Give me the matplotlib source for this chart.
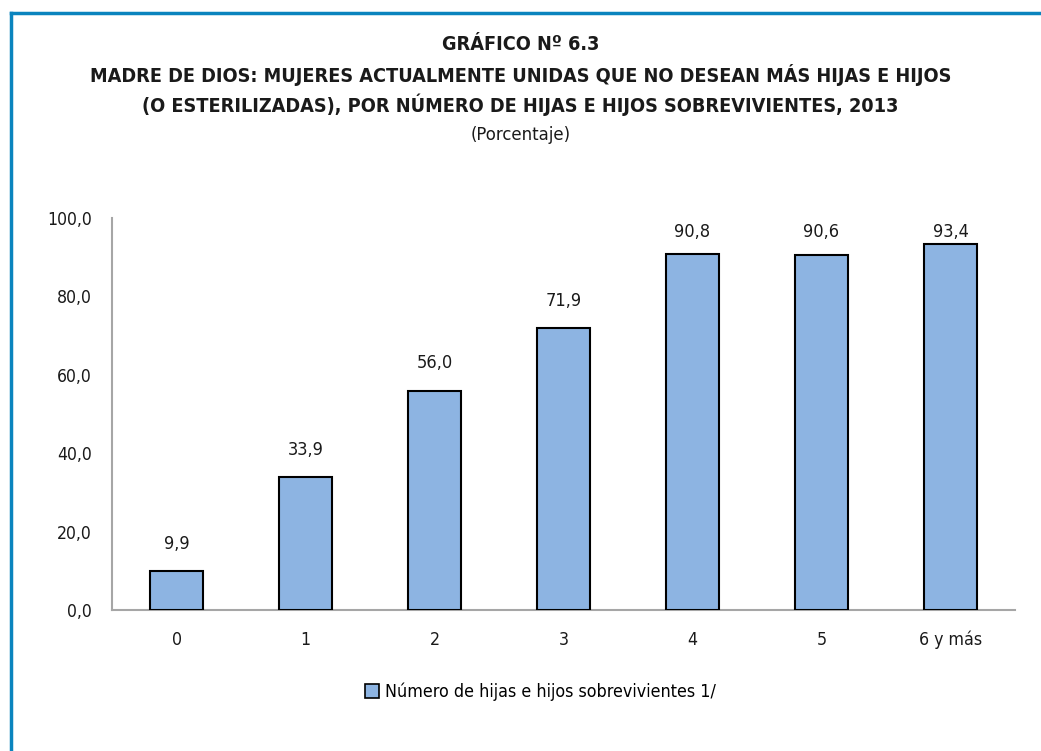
import matplotlib.pyplot as plt
from matplotlib.lines import Line2D
from matplotlib.patches import Patch

# data
categories = ['0', '1', '2', '3', '4', '5', '6 y más']
values = [9.9, 33.9, 56.0, 71.9, 90.8, 90.6, 93.4]
yticks = [0, 20, 40, 60, 80, 100]
legend_label = 'Número de hijas e hijos sobrevivientes 1/'
title_lines = [
    'GRÁFICO Nº 6.3',
    'MADRE DE DIOS: MUJERES ACTUALMENTE UNIDAS QUE NO DESEAN MÁS HIJAS E HIJOS',
    '(O ESTERILIZADAS), POR NÚMERO DE HIJAS E HIJOS SOBREVIVIENTES, 2013',
]
subtitle = '(Porcentaje)'

# narrow fonts first; fall back to condensed / regular DejaVu
plt.rcParams['font.family'] = ['Liberation Sans Narrow', 'DejaVu Sans']
plt.rcParams['font.stretch'] = 'condensed'

bar_color = '#8DB4E2'
frame_color = '#0A84BE'
spine_color = '#A6A6A6'
text_color = '#1a1a1a'


def fmt(v):
    return f'{v:.1f}'.replace('.', ',')


fig = plt.figure(figsize=(10.41, 7.51), dpi=100)
ax = fig.add_axes([0.1076, 0.1877, 0.8674, 0.522])

x = range(len(categories))
bars = ax.bar(x, values, width=0.41, color=bar_color, edgecolor='black',
              linewidth=1.5, zorder=3)
value_texts = []
for b, v in zip(bars, values):
    # labels sit ~27 px above the bar, but stay inside the plot area
    y = min(v + 6.9, 96.5)
    t = ax.text(b.get_x() + b.get_width() / 2, y, fmt(v), ha='center',
                va='center', fontsize=13, color=text_color)
    value_texts.append(t)

ax.set_xlim(-0.5, len(categories) - 0.5)
ax.set_ylim(0, 100)
ax.set_yticks(yticks)
ax.set_yticklabels([fmt(t) for t in yticks])
ax.set_xticks(list(x))
ax.set_xticklabels(categories)
ax.tick_params(axis='both', length=0, labelsize=13, colors=text_color)
ax.tick_params(axis='y', pad=14.4)
ax.tick_params(axis='x', pad=15)
for side in ('top', 'right'):
    ax.spines[side].set_visible(False)
for side in ('left', 'bottom'):
    ax.spines[side].set_color(spine_color)
    ax.spines[side].set_linewidth(1.5)

# titles
heads = []
for i, line in enumerate(title_lines):
    heads.append(fig.text(0.5, 1 - (45 + 30 * i) / 751, line, ha='center',
                          va='center', fontsize=13, fontweight='bold',
                          color=text_color))
sub = fig.text(0.5, 1 - 135 / 751, subtitle, ha='center', va='center',
               fontsize=13, color=text_color)

# legend
handle = Patch(facecolor=bar_color, edgecolor='black', linewidth=1.2)
leg = fig.legend([handle], [legend_label], loc='center',
                 bbox_to_anchor=(0.519, 1 - 692 / 751), frameon=False,
                 fontsize=13, handlelength=0.8, handleheight=0.8,
                 handletextpad=0.3)

# outer frame (left and top edges)
fig.add_artist(Line2D([11 / 1041, 11 / 1041], [0, 1 - 13 / 751],
                      transform=fig.transFigure, color=frame_color, lw=2.5))
fig.add_artist(Line2D([11 / 1041, 1], [1 - 13 / 751, 1 - 13 / 751],
                      transform=fig.transFigure, color=frame_color, lw=2.5))

# size the text so its width matches the reference, whatever font was found
fig.canvas.draw()
renderer = fig.canvas.get_renderer()


def scale_for(t, target_px):
    w = t.get_window_extent(renderer).width
    return t.get_fontsize() * target_px / w


title_size = scale_for(heads[1], 860)
for t in heads:
    t.set_fontsize(title_size)
sub.set_fontsize(scale_for(sub, 100))
ytick_size = scale_for(ax.get_yticklabels()[-1], 45)
xtick_size = scale_for(ax.get_xticklabels()[-1], 63)
ax.tick_params(axis='y', labelsize=ytick_size)
ax.tick_params(axis='x', labelsize=xtick_size)
val_size = scale_for(value_texts[-1], 36)
for t in value_texts:
    t.set_fontsize(val_size)
leg_text = leg.get_texts()[0]
leg_text.set_fontsize(scale_for(leg_text, 329))

fig.savefig('out.png', dpi=100)
